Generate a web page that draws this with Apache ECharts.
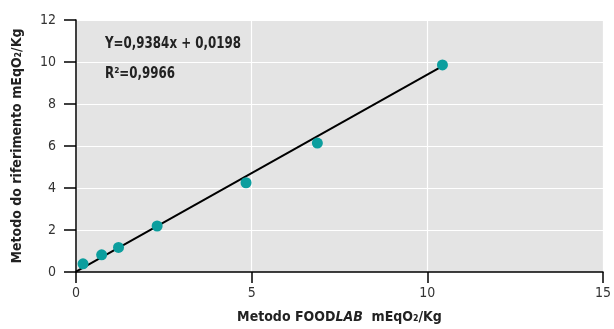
<!DOCTYPE html>
<html>
<head>
<meta charset="utf-8">
<script src="https://cdn.jsdelivr.net/npm/echarts@6/dist/echarts.min.js"></script>
<style>
  html, body { margin: 0; padding: 0; background: #fff; }
  #chart { width: 614px; height: 329px; }
</style>
</head>
<body>
<div id="chart"></div>
<script>
var foodlab = [0.20, 0.73, 1.21, 2.31, 4.84, 6.87, 10.43];
var riferimento = [0.39, 0.82, 1.17, 2.19, 4.25, 6.14, 9.86];
// regression reported on the chart
var slope = 0.9384;
var intercept = 0.0198;
var fitRange = [0, 10.43];

var font = '"Liberation Sans Narrow", "DejaVu Sans Condensed", "Roboto Condensed", sans-serif';

var points = [];
for (var i = 0; i < foodlab.length; i++) {
  points.push([foodlab[i], riferimento[i]]);
}
var fitLine = fitRange.map(function (x) {
  return [x, slope * x + intercept];
});

var myChart = echarts.init(document.getElementById('chart'));

var option = {
  animation: false,
  grid: {
    left: 76,
    right: 9,
    top: 20,
    bottom: 55,
    show: true,
    backgroundColor: '#e4e4e4',
    borderWidth: 0
  },
  xAxis: {
    type: 'value',
    min: 0,
    max: 15,
    interval: 5,
    name: '{b|Metodo FOOD}{i|LAB}{b|  mEqO₂/Kg}',
    nameLocation: 'middle',
    nameGap: 38,
    nameTextStyle: {
      rich: {
        b: { fontFamily: font, fontWeight: 'bold', fontSize: 14, color: '#222' },
        i: { fontFamily: font, fontWeight: 'bold', fontStyle: 'italic', fontSize: 14, color: '#222' }
      }
    },
    axisLine: { show: true, lineStyle: { color: '#000', width: 1.5 } },
    axisTick: { show: true, length: 11, lineStyle: { color: '#000', width: 1.5 } },
    axisLabel: { fontFamily: font, fontSize: 14, color: '#333', margin: 14 },
    splitLine: { show: true, lineStyle: { color: '#ffffff', width: 1.2 } }
  },
  yAxis: {
    type: 'value',
    min: 0,
    max: 12,
    interval: 2,
    name: 'Metodo do riferimento mEqO₂/Kg',
    nameLocation: 'middle',
    nameGap: 52,
    nameTextStyle: { fontFamily: font, fontWeight: 'bold', fontSize: 14, color: '#222' },
    axisLine: { show: true, lineStyle: { color: '#000', width: 1.5 } },
    axisTick: { show: true, length: 12, lineStyle: { color: '#000', width: 1.5 } },
    axisLabel: { fontFamily: font, fontSize: 14, color: '#333', margin: 20 },
    splitLine: { show: true, lineStyle: { color: '#ffffff', width: 1.2 } }
  },
  graphic: [
    {
      type: 'text',
      left: 105,
      top: 37,
      scaleX: 0.88,
      style: { text: 'Y=0,9384x + 0,0198', font: 'bold 15px ' + font, fill: '#222' }
    },
    {
      type: 'text',
      left: 105,
      top: 67,
      scaleX: 0.88,
      style: { text: 'R²=0,9966', font: 'bold 15px ' + font, fill: '#222' }
    }
  ],
  series: [
    {
      type: 'line',
      data: fitLine,
      symbol: 'none',
      lineStyle: { color: '#000', width: 2 },
      z: 2
    },
    {
      type: 'scatter',
      data: points,
      symbolSize: 11,
      itemStyle: { color: '#0c9e9e', opacity: 1 },
      z: 3
    }
  ]
};
myChart.setOption(option);
</script>
</body>
</html>
